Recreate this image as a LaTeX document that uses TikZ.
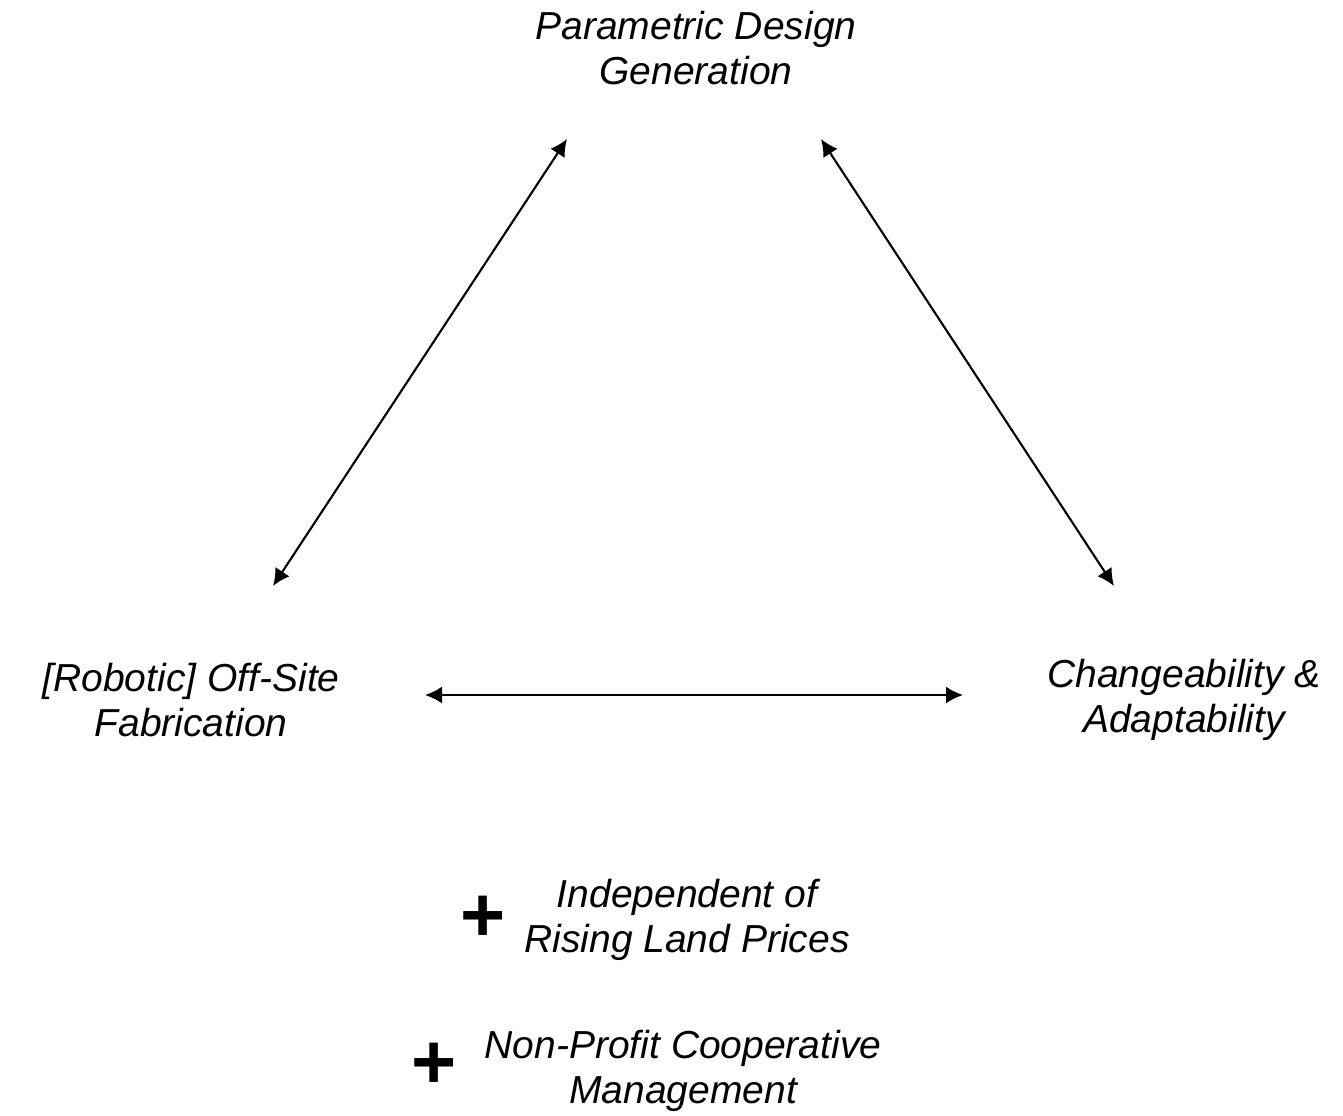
\documentclass[tikz,border=0pt]{standalone}
\usepackage{fontspec}
\setmainfont{Liberation Sans}
\usetikzlibrary{arrows.meta}
\begin{document}
\begin{tikzpicture}[x=0.01cm,y=-0.01cm,
	label/.style={align=center, font=\itshape\fontsize{11.1pt}{12.7pt}\selectfont, inner sep=0pt},
	plus/.style={font=\bfseries\fontsize{22pt}{22pt}\selectfont, inner sep=0pt},
	link/.style={line width=0.6pt, {Latex[length=1.7mm,width=1.7mm]}-{Latex[length=1.7mm,width=1.7mm]}}]
	\useasboundingbox (0,0) rectangle (1343,1115);
	%Draw corner labels
	\node[label] (param)  at (696,48)  {Parametric Design\\Generation};
	\node[label] (fab)    at (191,700) {[Robotic] Off-Site\\Fabrication};
	\node[label] (change) at (1184,700) {Changeability \&\\Adaptability};
	%Draw arrow ends
	\coordinate (param west) at (567,139);
	\coordinate (param east) at (821,139);
	\coordinate (fab north)  at (273,586);
	\coordinate (fab east)   at (425,695);
	\coordinate (change north) at (1114,586);
	\coordinate (change west)  at (963,695);
	%Draw arrows
	\draw[link] (param west) -- (fab north);
	\draw[link] (param east) -- (change north);
	\draw[link] (fab east)   -- (change west);

	%Draw extras
	\node[plus]  (plus one) at (483,919) {+};
	\node[label] (land)     at (687,920) {Independent of\\Rising Land Prices};
	\node[plus]  (plus two) at (434,1066) {+};
	\node[label] (coop)     at (683,1071) {Non-Profit Cooperative\\Management};
	%
\end{tikzpicture}
\end{document}
